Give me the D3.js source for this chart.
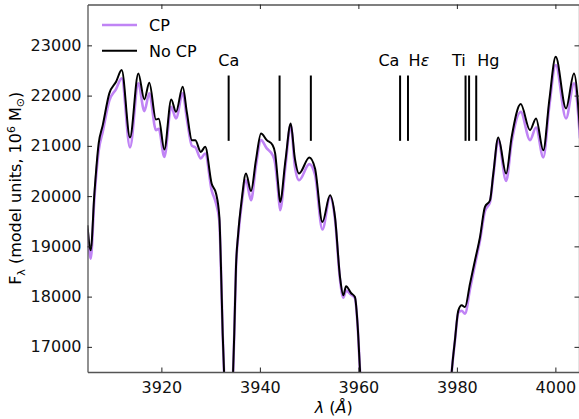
<!DOCTYPE html>
<html>
<head>
<meta charset="utf-8">
<script src="https://cdn.jsdelivr.net/npm/d3@7"></script>
<style>
  body { margin: 0; background: #fff; }
  svg { font-family: "DejaVu Sans", sans-serif; }
</style>
</head>
<body>
<div id="chart"></div>
<script>
// wavelength grid (Angstrom)
const wavelength = [
  3905.0, 3905.65, 3906.4, 3907.27, 3908.1, 3909.43, 3910.8, 3911.94, 3913.63, 3915.32,
  3916.54, 3917.55, 3918.9, 3919.46, 3920.6, 3922.0, 3922.97, 3924.33, 3925.2, 3926.2,
  3926.9, 3928.0, 3928.9, 3930.2, 3931.1, 3931.77, 3932.1, 3932.45, 3932.8, 3933.6,
  3934.5, 3934.8, 3935.15, 3935.6, 3936.3, 3937.18, 3938.2, 3939.2, 3940.23, 3941.4,
  3942.6, 3943.1, 3943.7, 3944.1, 3945.2, 3946.26, 3947.1, 3947.95, 3950.04, 3951.2,
  3952.7, 3954.24, 3955.25, 3956.27, 3956.94, 3957.5, 3958.5, 3959.3, 3959.87, 3960.33,
  3961.0, 3970.0, 3978.3, 3978.95, 3979.6, 3980.3, 3980.98, 3981.65, 3982.67, 3983.68,
  3984.7, 3985.7, 3986.73, 3987.4, 3988.4, 3990.0, 3991.13, 3992.96, 3994.85, 3996.07,
  3997.55, 3998.77, 4000.07, 4002.16, 4003.78, 4005.0
];

// flux without CP
const fluxNoCP = [
  19420, 18922, 20052, 21048, 21412, 22044, 22275, 22508, 21167, 22442,
  21924, 22255, 21526, 21538, 20928, 21924, 21677, 22175, 21650, 21114,
  21110, 20880, 20980, 20251, 20052, 19586, 18590, 17263, 16300, 15000,
  16300, 17263, 18590, 19255, 19918, 20450, 20104, 20715, 21247, 21114,
  21014, 20850, 20250, 19885, 20715, 21446, 20750, 20450, 20769, 20550,
  19486, 20018, 19586, 18390, 18026, 18205, 18072, 17992, 17395, 16532,
  15500, 14000, 15500, 16498, 17130, 17727, 17827, 17793, 18259, 18723,
  19187, 19785, 19918, 20450, 21167, 20450, 21180, 21831, 21313, 21546,
  20914, 21910, 22773, 21745, 22442, 21300
];

// flux with CP
const fluxCP = [
  19350, 18757, 19950, 20900, 21280, 21900, 22130, 22343, 20968, 22243,
  21691, 22044, 21313, 21340, 20781, 21777, 21546, 22044, 21520, 21000,
  20970, 20749, 20849, 20120, 19853, 19500, 18540, 17240, 16280, 15000,
  16280, 17240, 18560, 19200, 19840, 20317, 19918, 20600, 21114, 20950,
  20815, 20650, 20100, 19719, 20600, 21420, 20600, 20317, 20636, 20420,
  19335, 19978, 19540, 18340, 17980, 18120, 18040, 17970, 17380, 16520,
  15500, 14000, 15500, 16490, 17110, 17680, 17720, 17661, 18150, 18640,
  19120, 19700, 19880, 20400, 21120, 20303, 21080, 21677, 21114, 21366,
  20769, 21790, 22608, 21546, 22243, 21150
];

// line markers
const markerWave = [3933.66, 3944.0, 3950.35, 3968.47, 3970.07, 3981.76, 3982.48, 3983.93];
const labelText = ["Ca", "Ca", "H\u03B5", "Ti", "Hg"];
const labelWave = [3933.7, 3966.2, 3972.3, 3980.4, 3986.4];

const xTicks = [3920, 3940, 3960, 3980, 4000];
const yTicks = [17000, 18000, 19000, 20000, 21000, 22000, 23000];

const width = 579, height = 419;
const plot = { left: 87.5, right: 580, top: 4.5, bottom: 372 };

const svg = d3.select("#chart").append("svg")
    .attr("width", width)
    .attr("height", height);

const x = d3.scaleLinear().domain([3905, 4005]).range([plot.left, plot.right]);
const y = d3.scaleLinear().domain([16500, 23813]).range([plot.bottom, plot.top]);

svg.append("clipPath").attr("id", "clip")
    .append("rect")
    .attr("x", plot.left).attr("y", plot.top)
    .attr("width", plot.right - plot.left).attr("height", plot.bottom - plot.top);

const line = d3.line()
    .x(d => x(d[0]))
    .y(d => y(d[1]))
    .curve(d3.curveMonotoneX);

const g = svg.append("g").attr("clip-path", "url(#clip)");

g.append("path")
    .datum(wavelength.map((w, i) => [w, fluxCP[i]]))
    .attr("d", line)
    .attr("fill", "none")
    .attr("stroke", "#c084f5")
    .attr("stroke-width", 2.6);

g.append("path")
    .datum(wavelength.map((w, i) => [w, fluxNoCP[i]]))
    .attr("d", line)
    .attr("fill", "none")
    .attr("stroke", "#000")
    .attr("stroke-width", 2);

// marker lines
svg.selectAll(".marker")
    .data(markerWave)
    .enter().append("line")
    .attr("x1", d => x(d)).attr("x2", d => x(d))
    .attr("y1", y(22400)).attr("y2", y(21100))
    .attr("stroke", "#000")
    .attr("stroke-width", 2);

svg.selectAll(".mlabel")
    .data(labelText)
    .enter().append("text")
    .attr("x", (d, i) => x(labelWave[i]))
    .attr("y", 65.5)
    .attr("text-anchor", "middle")
    .attr("font-size", 16)
    .html(d => d.startsWith("H\u03B5") ? 'H<tspan font-style="italic">\u03B5</tspan>' : d);

// axes with inward ticks
const axisColor = "#555";
const tickLen = 4.5;

const xAxisB = svg.append("g").attr("transform", `translate(0,${plot.bottom})`)
    .call(d3.axisBottom(x).tickValues(xTicks).tickSizeInner(-tickLen).tickSizeOuter(0).tickPadding(10).tickFormat(d3.format("d")));
const xAxisT = svg.append("g").attr("transform", `translate(0,${plot.top})`)
    .call(d3.axisTop(x).tickValues(xTicks).tickSizeInner(-tickLen).tickSizeOuter(0).tickFormat(""));
const yAxisL = svg.append("g").attr("transform", `translate(${plot.left},0)`)
    .call(d3.axisLeft(y).tickValues(yTicks).tickSizeInner(-tickLen).tickSizeOuter(0).tickPadding(6).tickFormat(d3.format("d")));
const yAxisR = svg.append("g").attr("transform", `translate(${plot.right - 1},0)`)
    .call(d3.axisRight(y).tickValues(yTicks).tickSizeInner(-tickLen).tickSizeOuter(0).tickFormat(""));

[xAxisB, xAxisT, yAxisL, yAxisR].forEach(a => {
    a.select(".domain").attr("stroke", axisColor).attr("stroke-width", 1.3);
    a.selectAll(".tick line").attr("stroke", "#222").attr("stroke-width", 1);
    a.selectAll(".tick text")
        .attr("font-family", "DejaVu Sans, sans-serif")
        .attr("font-size", 16)
        .attr("fill", "#111");
});

// axis labels
svg.append("text")
    .attr("x", (plot.left + plot.right) / 2)
    .attr("y", 413)
    .attr("text-anchor", "middle")
    .attr("font-size", 16)
    .html('<tspan font-style="italic">\u03BB</tspan> (<tspan font-style="italic">\u00C5</tspan>)');

svg.append("text")
    .attr("transform", `translate(21,${(plot.top + plot.bottom) / 2}) rotate(-90)`)
    .attr("text-anchor", "middle")
    .attr("font-size", 16)
    .html('F<tspan font-size="11" dy="4">\u03BB</tspan><tspan dy="-4"> (model units, 10</tspan><tspan font-size="11" dy="-6">6</tspan><tspan dy="6"> M</tspan><tspan font-size="11" dy="3">\u2299</tspan><tspan dy="-3">)</tspan>');

// legend
const legend = [
    { name: "CP", color: "#c084f5", w: 2.6, yy: 25 },
    { name: "No CP", color: "#000", w: 2, yy: 50.7 }
];
legend.forEach(l => {
    svg.append("line")
        .attr("x1", 102).attr("x2", 137)
        .attr("y1", l.yy).attr("y2", l.yy)
        .attr("stroke", l.color).attr("stroke-width", l.w);
    svg.append("text")
        .attr("x", 149).attr("y", l.yy + 6)
        .attr("font-size", 16)
        .text(l.name);
});
</script>
</body>
</html>
